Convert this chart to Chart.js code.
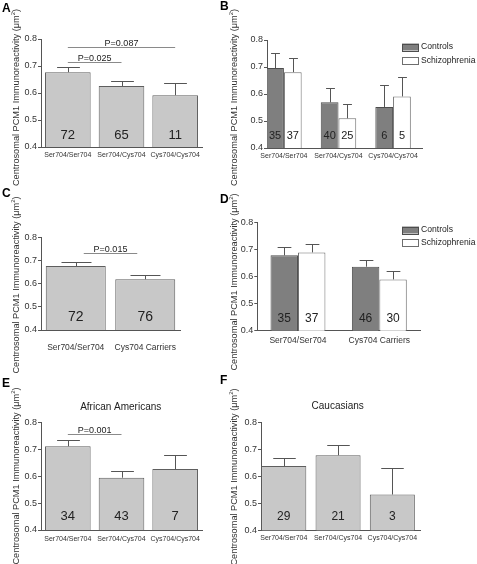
<!DOCTYPE html>
<html lang="en">
<head>
<meta charset="UTF-8">
<title>Centrosomal PCM1 Immunoreactivity</title>
<style>
  html, body { margin: 0; padding: 0; background: #fff; }
  #fig { position: relative; width: 477px; height: 564px; overflow: hidden; }
  #fig canvas { position: absolute; }
</style>
</head>
<body>
<div id="fig">
  <canvas id="panelA" width="230" height="186" style="left:0;top:0"></canvas>
  <canvas id="panelB" width="259" height="186" style="left:218px;top:0"></canvas>
  <canvas id="panelC" width="230" height="190" style="left:0;top:186px"></canvas>
  <canvas id="panelD" width="259" height="190" style="left:218px;top:186px"></canvas>
  <canvas id="panelE" width="230" height="192" style="left:0;top:372px"></canvas>
  <canvas id="panelF" width="259" height="192" style="left:218px;top:372px"></canvas>
</div>

<script src="https://cdn.jsdelivr.net/npm/chart.js"></script>
<script>
// categories and tick values
const genotypes = ['Ser704/Ser704', 'Ser704/Cys704', 'Cys704/Cys704'];
const carrierGroups = ['Ser704/Ser704', 'Cys704 Carriers'];
const yTicks = [0.4, 0.5, 0.6, 0.7, 0.8];
const yTitle = 'Centrosomal PCM1 Immunoreactivity (\u03bcm';

// A: all subjects by genotype
const meanA = [0.677, 0.626, 0.592];
const semA = [0.018, 0.019, 0.044];
const nA = [72, 65, 11];
const bracketsA = [
  { from: 0, to: 1, y: 0.715, text: 'P=0.025' },
  { from: 0, to: 2, y: 0.770, text: 'P=0.087' }
];

// B: controls vs schizophrenia by genotype
const ctrlMeanB = [0.696, 0.569, 0.552];
const ctrlSemB = [0.055, 0.052, 0.083];
const ctrlNB = [35, 40, 6];
const sczMeanB = [0.681, 0.510, 0.591];
const sczSemB = [0.054, 0.054, 0.073];
const sczNB = [37, 25, 5];

// C: Ser704 homozygotes vs Cys704 carriers
const meanC = [0.677, 0.620];
const semC = [0.019, 0.017];
const nC = [72, 76];
const bracketsC = [{ from: 0, to: 1, y: 0.735, text: 'P=0.015' }];

// D: controls vs schizophrenia, carriers
const ctrlMeanD = [0.679, 0.637];
const ctrlSemD = [0.030, 0.024];
const ctrlND = [35, 46];
const sczMeanD = [0.690, 0.590];
const sczSemD = [0.030, 0.030];
const sczND = [37, 30];

// E: African Americans
const meanE = [0.712, 0.595, 0.627];
const semE = [0.023, 0.025, 0.054];
const nE = [34, 43, 7];
const bracketsE = [{ from: 0, to: 1, y: 0.758, text: 'P=0.001' }];

// F: Caucasians
const meanF = [0.639, 0.679, 0.533];
const semF = [0.030, 0.039, 0.100];
const nF = [29, 21, 3];

const FONT = '"Liberation Sans", Arial, Helvetica, sans-serif';
const AXIS = '#555';
const TXT = '#222';
const GREY = { fill: '#c8c8c8', border: '#5e5e5e' };
const CTRL = { fill: '#7f7f7f', border: '#4d4d4d', label: 'Controls' };
const SCZ = { fill: '#ffffff', border: '#6e6e6e', label: 'Schizophrenia' };

// draws error bars, n counts, P brackets, letters, titles, legend
function decor(p) {
  return {
    id: 'decor',
    afterDatasetsDraw(chart) {
      const ctx = chart.ctx, y = chart.scales.y, x = chart.scales.x, area = chart.chartArea;
      ctx.save();
      p.series.forEach((s, di) => {
        chart.getDatasetMeta(di).data.forEach((bar, i) => {
          const cx = Math.round(bar.x) + 0.5;
          const top = Math.round(y.getPixelForValue(s.mean[i] + s.sem[i])) + 0.5;
          const half = bar.width * 0.25;
          ctx.strokeStyle = AXIS;
          ctx.lineWidth = 1;
          ctx.beginPath();
          ctx.moveTo(cx, bar.y);
          ctx.lineTo(cx, top);
          ctx.moveTo(cx - half, top);
          ctx.lineTo(cx + half, top);
          ctx.stroke();

          ctx.fillStyle = TXT;
          ctx.font = p.nSize + 'px ' + FONT;
          ctx.textAlign = 'center';
          ctx.textBaseline = 'middle';
          ctx.fillText(String(s.n[i]), bar.x, area.bottom - p.nLift);
        });
      });

      (p.brackets || []).forEach(b => {
        const x1 = x.getPixelForValue(b.from) + (p.inset || 0);
        const x2 = x.getPixelForValue(b.to) - (p.inset || 0);
        const yy = Math.round(y.getPixelForValue(b.y)) + 0.5;
        ctx.strokeStyle = '#8a8a8a';
        ctx.beginPath();
        ctx.moveTo(x1, yy);
        ctx.lineTo(x2, yy);
        ctx.stroke();
        ctx.fillStyle = TXT;
        ctx.font = '9px ' + FONT;
        ctx.textAlign = 'center';
        ctx.textBaseline = 'alphabetic';
        ctx.fillText(b.text, (x1 + x2) / 2, yy - 2);
      });
      ctx.restore();
    },
    afterDraw(chart) {
      const ctx = chart.ctx;
      ctx.save();
      // panel letter
      ctx.fillStyle = '#000';
      ctx.font = 'bold 12px ' + FONT;
      ctx.textAlign = 'left';
      ctx.textBaseline = 'alphabetic';
      ctx.fillText(p.letter, p.letterAt[0], p.letterAt[1]);

      // rotated axis title with superscript
      ctx.save();
      ctx.translate(p.yTitleAt[0], p.yTitleAt[1]);
      ctx.rotate(-Math.PI / 2);
      ctx.fillStyle = '#333';
      ctx.textBaseline = 'middle';
      ctx.font = '9.2px ' + FONT;
      const wMain = ctx.measureText(yTitle).width;
      const wClose = ctx.measureText(')').width;
      ctx.font = '6px ' + FONT;
      const wSup = ctx.measureText('2').width;
      let sx = -(wMain + wSup + wClose) / 2;
      ctx.font = '9.2px ' + FONT;
      ctx.fillText(yTitle, sx, 0);
      sx += wMain;
      ctx.font = '6px ' + FONT;
      ctx.fillText('2', sx, -3);
      sx += wSup;
      ctx.font = '9.2px ' + FONT;
      ctx.fillText(')', sx, 0);
      ctx.restore();

      if (p.title) {
        ctx.fillStyle = TXT;
        ctx.font = '10px ' + FONT;
        ctx.textAlign = 'center';
        ctx.textBaseline = 'middle';
        ctx.fillText(p.title, p.titleAt[0], p.titleAt[1]);
      }

      if (p.legend) {
        p.series.forEach((s, i) => {
          const cy = p.legend.y[i];
          ctx.fillStyle = s.fill;
          ctx.strokeStyle = s.border;
          ctx.fillRect(p.legend.x, cy - 3.5, 17, 7);
          ctx.strokeRect(p.legend.x + 0.5, Math.round(cy - 3.5) + 0.5, 16, 7);
          ctx.fillStyle = TXT;
          ctx.font = '8.6px ' + FONT;
          ctx.textAlign = 'left';
          ctx.textBaseline = 'middle';
          ctx.fillText(s.label, p.legend.x + 19, cy);
        });
      }
      ctx.restore();
    }
  };
}

function buildPanel(p) {
  const yW = 30;
  const datasets = p.series.map(s => ({
    label: s.label || '',
    data: p.linear ? s.mean.map((v, i) => ({ x: i, y: v })) : s.mean,
    backgroundColor: s.fill,
    borderColor: s.border,
    borderWidth: 1,
    barPercentage: p.barPct,
    categoryPercentage: p.catPct
  }));

  const xScale = {
    type: p.linear ? 'linear' : 'category',
    offset: !p.linear,
    afterFit: s => { s.height = p.xH; },
    grid: { display: false, drawTicks: false },
    border: { display: true, color: AXIS },
    ticks: { padding: p.xPad, autoSkip: false, maxRotation: 0, color: '#333', font: { family: FONT, size: p.xFont } }
  };
  if (p.linear) {
    xScale.min = p.xMin;
    xScale.max = p.xMax;
    xScale.afterBuildTicks = s => { s.ticks = p.labels.map((_, i) => ({ value: i })); };
    xScale.ticks.callback = v => p.labels[v];
  }

  new Chart(document.getElementById(p.id), {
    type: 'bar',
    data: { labels: p.labels, datasets: datasets },
    options: {
      responsive: false,
      animation: false,
      devicePixelRatio: 1,
      layout: {
        padding: { left: p.area.l - yW, top: p.area.t, right: p.w - p.area.r, bottom: p.h - p.area.b - p.xH }
      },
      plugins: { legend: { display: false }, tooltip: { enabled: false } },
      scales: {
        x: xScale,
        y: {
          min: 0.4,
          max: 0.8,
          afterFit: s => { s.width = yW; },
          afterBuildTicks: s => { s.ticks = yTicks.map(v => ({ value: v })); },
          ticks: { padding: 1, color: '#333', font: { family: FONT, size: 9 }, callback: v => v.toFixed(1) },
          grid: { display: true, drawOnChartArea: false, drawTicks: true, tickLength: 3, color: AXIS },
          border: { display: true, color: AXIS }
        }
      }
    },
    plugins: [decor(p)]
  });
}

buildPanel({
  id: 'panelA', w: 230, h: 186, area: { l: 41, r: 202, t: 39, b: 147 },
  labels: genotypes, xH: 20, xPad: 4, xFont: 7, barPct: 0.85, catPct: 1,
  series: [{ mean: meanA, sem: semA, n: nA, fill: GREY.fill, border: GREY.border }],
  nSize: 13, nLift: 12, brackets: bracketsA,
  letter: 'A', letterAt: [2, 12], yTitleAt: [16, 97.5]
});

buildPanel({
  id: 'panelB', w: 259, h: 186, area: { l: 49, r: 204, t: 40, b: 148 },
  labels: genotypes, linear: true, xMin: -0.31, xMax: 2.53,
  xH: 20, xPad: 4, xFont: 7, barPct: 1, catPct: 0.65,
  series: [
    { mean: ctrlMeanB, sem: ctrlSemB, n: ctrlNB, fill: CTRL.fill, border: CTRL.border, label: CTRL.label },
    { mean: sczMeanB, sem: sczSemB, n: sczNB, fill: SCZ.fill, border: SCZ.border, label: SCZ.label }
  ],
  nSize: 11, nLift: 12, legend: { x: 184, y: [47, 60.5] },
  letter: 'B', letterAt: [2, 10], yTitleAt: [16, 97.5]
});

buildPanel({
  id: 'panelC', w: 230, h: 190, area: { l: 41, r: 180, t: 51.7, b: 144 },
  labels: carrierGroups, xH: 30, xPad: 13, xFont: 8.5, barPct: 0.863, catPct: 1,
  series: [{ mean: meanC, sem: semC, n: nC, fill: GREY.fill, border: GREY.border }],
  nSize: 14, nLift: 13.3, brackets: bracketsC, inset: 8,
  letter: 'C', letterAt: [2, 11], yTitleAt: [16, 99]
});

buildPanel({
  id: 'panelD', w: 259, h: 190, area: { l: 39.3, r: 202, t: 36.7, b: 144.7 },
  labels: carrierGroups, xH: 20, xPad: 4.5, xFont: 8.5, barPct: 1, catPct: 0.675,
  series: [
    { mean: ctrlMeanD, sem: ctrlSemD, n: ctrlND, fill: CTRL.fill, border: CTRL.border, label: CTRL.label },
    { mean: sczMeanD, sem: sczSemD, n: sczND, fill: SCZ.fill, border: SCZ.border, label: SCZ.label }
  ],
  nSize: 12, nLift: 12, legend: { x: 184, y: [44, 56.3] },
  letter: 'D', letterAt: [2, 17], yTitleAt: [16, 96]
});

buildPanel({
  id: 'panelE', w: 230, h: 192, area: { l: 41, r: 202, t: 50.7, b: 158 },
  labels: genotypes, xH: 20, xPad: 5, xFont: 7, barPct: 0.85, catPct: 1,
  series: [{ mean: meanE, sem: semE, n: nE, fill: GREY.fill, border: GREY.border }],
  nSize: 13, nLift: 13.3, brackets: bracketsE,
  title: 'African Americans', titleAt: [120.7, 35.7],
  letter: 'E', letterAt: [2, 15], yTitleAt: [16, 104]
});

buildPanel({
  id: 'panelF', w: 259, h: 192, area: { l: 43, r: 202, t: 50.7, b: 158.3 },
  labels: genotypes, linear: true, xMin: -0.42, xMax: 2.51,
  xH: 20, xPad: 4, xFont: 7, barPct: 0.83, catPct: 1,
  series: [{ mean: meanF, sem: semF, n: nF, fill: GREY.fill, border: GREY.border }],
  nSize: 12, nLift: 13.6,
  title: 'Caucasians', titleAt: [119.7, 34.7],
  letter: 'F', letterAt: [2, 12], yTitleAt: [16, 105]
});
</script>
</body>
</html>
